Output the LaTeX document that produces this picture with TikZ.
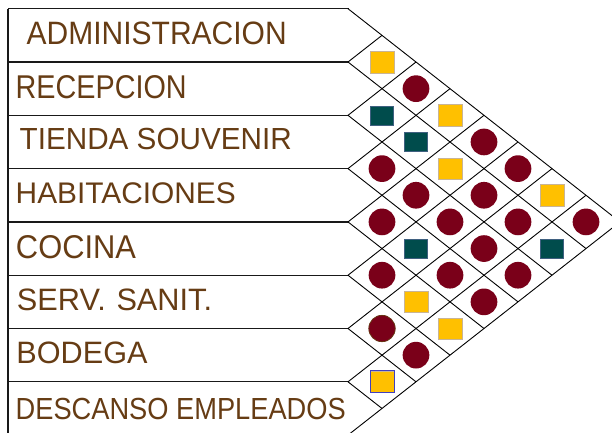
\documentclass[tikz,border=0pt]{standalone}
\usepackage{fontspec}
\setmainfont{Liberation Sans}
\usepackage{graphicx}
\definecolor{txtbrown}{HTML}{663C14}
\definecolor{relred}{HTML}{7A0019}
\definecolor{relyellow}{HTML}{FFC000}
\definecolor{relteal}{HTML}{004C4C}
\definecolor{tealedge}{HTML}{3F6080}
\definecolor{yeledge}{HTML}{C8B496}
\definecolor{blueedge}{HTML}{4040C0}
\tikzset{
  rowline/.style={line width=1.2bp, draw=black!90},
  gridline/.style={line width=0.9bp, draw=black},
  lbl/.style={inner sep=0pt, anchor=base west, text=txtbrown},
  circ/.style={circle, fill=relred, minimum size=26.7bp, inner sep=0pt},
  ysq/.style={rectangle, fill=relyellow, draw=yeledge, line width=0.5bp, minimum width=23.5bp, minimum height=21.5bp, inner sep=0pt},
  tsq/.style={rectangle, fill=relteal, draw=tealedge, line width=0.6bp, minimum width=23.5bp, minimum height=19bp, inner sep=0pt}
}
\begin{document}
\begin{tikzpicture}[x=1bp,y=-1bp]
\useasboundingbox (0,0) rectangle (612,432);
\clip (0,0) rectangle (612,432);
\fill[white] (0,0) rectangle (612,432);
% left border
\draw[rowline] (8,8.7) -- (8,436);
% row lines and lattice
\foreach \k in {0,...,8}{
  \pgfmathsetmacro{\yk}{8.7+53.3*\k}
  \pgfmathsetmacro{\ydn}{(\yk+8.7+53.3*8)/2}
  \pgfmathsetmacro{\xdn}{348+34*(8-\k)}
  \pgfmathsetmacro{\yup}{(\yk+8.7)/2}
  \pgfmathsetmacro{\xup}{348+34*\k}
  \draw[rowline] (8,\yk) -- (348.5,\yk);
  \draw[gridline] (348,\yk) -- (\xdn,\ydn);
  \draw[gridline] (348,\yk) -- (\xup,\yup);
}
% labels
\node[lbl] (admin) at (26.5,44.3) {\resizebox{260bp}{22.6bp}{ADMINISTRACION}};
\node[lbl] (recep) at (15.5,98.3) {\resizebox{171bp}{23bp}{RECEPCION}};
\node[lbl] (tienda) at (19.5,149.3) {\resizebox{272bp}{21.3bp}{TIENDA SOUVENIR}};
\node[lbl] (habit) at (15.5,203.3) {\resizebox{220bp}{20.8bp}{HABITACIONES}};
\node[lbl] (cocina) at (15.8,258) {\resizebox{120bp}{23bp}{COCINA}};
\node[lbl] (serv) at (16.8,310.3) {\resizebox{195bp}{21.6bp}{SERV.\hspace{0.35em}SANIT.}};
\node[lbl] (bodega) at (16.3,363.3) {\resizebox{131bp}{21.6bp}{BODEGA}};
\node[lbl] (desc) at (15.5,419.3) {\resizebox{330bp}{21.3bp}{DESCANSO EMPLEADOS}};
% relationship marks: i/j/style
\foreach \i/\j/\s in {1/2/ysq,2/3/tsq,3/4/circ,4/5/circ,5/6/circ,6/7/circ,7/8/ysq,
  1/3/circ,2/4/tsq,3/5/circ,4/6/tsq,5/7/ysq,6/8/circ,
  1/4/ysq,2/5/ysq,3/6/circ,4/7/circ,5/8/ysq,
  1/5/circ,2/6/circ,3/7/circ,4/8/circ,
  1/6/circ,2/7/circ,3/8/circ,
  1/7/ysq,2/8/tsq,
  1/8/circ}{
  \pgfmathsetmacro{\cx}{348+34*(\j-\i)}
  \pgfmathsetmacro{\cy}{8.7+26.65*(\i+\j-1)}
  \node[\s] (c\i\j) at (\cx,\cy) {};
}
% special outlines
\draw[blueedge, line width=0.9bp] (c78.south west) rectangle (c78.north east);
\draw[txtbrown, line width=0.7bp] (c67) circle (13.2bp);
\end{tikzpicture}
\end{document}
